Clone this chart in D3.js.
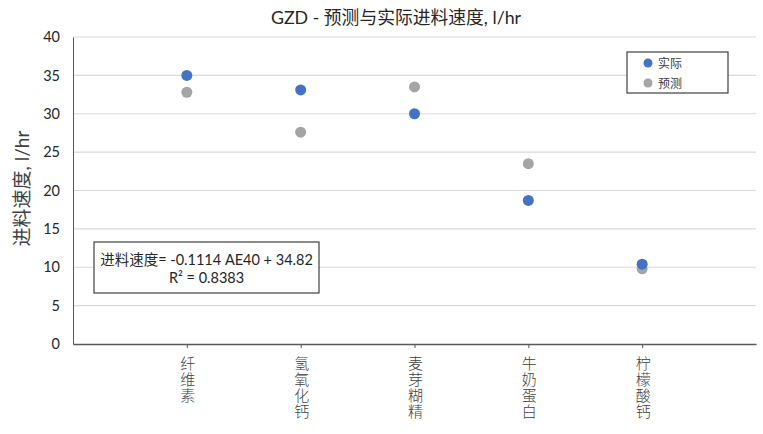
<!DOCTYPE html>
<html><head><meta charset="utf-8">
<script src="https://cdn.jsdelivr.net/npm/d3@7"></script>
<style>
body{margin:0;background:#fff;}
text{font-family:Lato,"Noto Sans CJK SC",sans-serif;}
</style></head>
<body><svg id="c" width="763" height="434"></svg>
<script>
const categories = ["纤维素","氢氧化钙","麦芽糊精","牛奶蛋白","柠檬酸钙"];
const actual = [35.0, 33.1, 30.0, 18.7, 10.4];
const predicted = [32.8, 27.6, 33.5, 23.5, 9.8];
const yTicks = [0,5,10,15,20,25,30,35,40];
const seriesNames = ["实际","预测"];
const colors = ["#4472C4","#A5A5A5"];
const title = "GZD - 预测与实际进料速度, l/hr";
const yTitle = "进料速度, l/hr";
const eqLines = ["进料速度= -0.1114 AE40 + 34.82", "R² = 0.8383"];

const svg = d3.select("#c");
const L = 73, R = 756, T = 37, B = 344;
const x = d3.scaleLinear().domain([0, 6]).range([L, R]);
const y = d3.scaleLinear().domain([0, 40]).range([B, T]);

// gridlines
svg.append("g").selectAll("line").data(yTicks.filter(d=>d>0)).join("line")
  .attr("x1", L).attr("x2", R).attr("y1", d=>y(d)).attr("y2", d=>y(d))
  .attr("stroke", "#d9d9d9").attr("stroke-width", 1.2);

// y axis
const ya = svg.append("g").attr("transform", `translate(${L},0)`)
  .call(d3.axisLeft(y).tickValues(yTicks).tickSize(0).tickPadding(13));
ya.select(".domain").attr("stroke", "#595959").attr("stroke-width", 1);
ya.selectAll("text").attr("font-size", 14.5).attr("fill", "#262626");

// x axis
const xa = svg.append("g").attr("transform", `translate(0,${B})`)
  .call(d3.axisBottom(x).tickValues([1,2,3,4,5]).tickSize(4).tickSizeOuter(0).tickFormat(d=>categories[d-1]));
xa.select(".domain").attr("stroke", "#595959").attr("stroke-width", 1.3);
xa.selectAll("line").attr("stroke", "#595959");
xa.selectAll("text")
  .attr("font-size", 15).attr("fill", "#404040")
  .attr("font-family", "'Noto Sans CJK SC'").attr("font-weight", 300)
  .style("writing-mode", "vertical-rl")
  .style("letter-spacing", "1px")
  .attr("text-anchor", "start")
  .attr("dy", null).attr("y", 12).attr("x", 0);

// points
const pts = svg.append("g");
[predicted, actual].forEach((arr, si) => {
  const col = si === 0 ? colors[1] : colors[0];
  pts.append("g").selectAll("circle").data(arr).join("circle")
    .attr("cx", (d,i)=>x(i+1)).attr("cy", d=>y(d)).attr("r", 5.5).attr("fill", col);
});

// title
svg.append("text").attr("x", 396).attr("y", 24).attr("text-anchor", "middle")
  .attr("font-size", 17.8).attr("fill", "#262626").text(title);

// y title
svg.append("text").attr("transform", `translate(29,${(T+B)/2-2}) rotate(-90)`)
  .attr("text-anchor", "middle").attr("font-size", 19).attr("fill", "#404040").text(yTitle);

// legend
const lg = svg.append("g");
lg.append("rect").attr("x", 627).attr("y", 52).attr("width", 101).attr("height", 41)
  .attr("fill", "#fff").attr("stroke", "#404040").attr("stroke-width", 1.2);
seriesNames.forEach((n, i) => {
  lg.append("circle").attr("cx", 648).attr("cy", 63 + i*20).attr("r", 4.5).attr("fill", colors[i]);
  lg.append("text").attr("x", 658).attr("y", 67.5 + i*20).attr("font-size", 12)
    .attr("fill", "#404040").text(n);
});

// equation box
const eq = svg.append("g");
eq.append("rect").attr("x", 94).attr("y", 242).attr("width", 225).attr("height", 51)
  .attr("fill", "#fff").attr("stroke", "#404040").attr("stroke-width", 1.2);
eqLines.forEach((t, i) => {
  eq.append("text").attr("x", 206.5).attr("y", 265 + i*18).attr("text-anchor", "middle")
    .attr("font-size", 14.5).attr("fill", "#262626").text(t);
});
</script></body></html>
